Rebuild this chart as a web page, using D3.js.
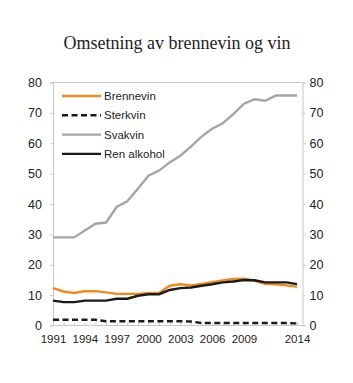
<!DOCTYPE html>
<html>
<head>
<meta charset="utf-8">
<script src="https://cdn.jsdelivr.net/npm/d3@7"></script>
<style>
  body { margin: 0; background: #fff; }
  .axis text { font-family: "Liberation Sans", Arial, sans-serif; fill: #222; }
  .legend text { font-family: "Liberation Sans", Arial, sans-serif; font-size: 11.5px; fill: #222; }
</style>
</head>
<body>
<div class="chart"></div>
<script>
// DATA ------------------------------------

const years = d3.range(1991, 2015);
const yearLabels = [1991, 1994, 1997, 2000, 2003, 2006, 2009, 2014];
const yTicks = [0, 10, 20, 30, 40, 50, 60, 70, 80];

const brennevin = [12.3, 11.2, 10.7, 11.3, 11.3, 10.9, 10.4, 10.4, 10.4, 10.7, 10.7, 13.1,
  13.6, 13.2, 13.7, 14.3, 14.8, 15.3, 15.4, 14.7, 13.7, 13.6, 13.2, 12.7];
const sterkvin = [1.9, 1.9, 1.9, 1.9, 1.9, 1.4, 1.4, 1.4, 1.4, 1.4, 1.4, 1.4,
  1.4, 1.3, 0.8, 0.8, 0.8, 0.8, 0.8, 0.8, 0.8, 0.8, 0.8, 0.7];
const svakvin = [29, 29, 29, 31.3, 33.5, 33.9, 39, 40.9, 45, 49.3, 51, 53.7,
  55.9, 58.9, 62.2, 64.8, 66.6, 69.6, 73, 74.5, 74, 75.7, 75.7, 75.7];
const renAlkohol = [8.2, 7.7, 7.7, 8.2, 8.2, 8.2, 8.8, 8.8, 9.8, 10.3, 10.3, 11.7,
  12.3, 12.5, 13.1, 13.6, 14.2, 14.5, 15, 14.9, 14.2, 14.2, 14.2, 13.6];

const seriesNames = ["Brennevin", "Sterkvin", "Svakvin", "Ren alkohol"];
const seriesValues = [brennevin, sterkvin, svakvin, renAlkohol];
const seriesColors = ["#f08a1c", "#1a1a1a", "#a5a5a5", "#1a1a1a"];
const seriesDash = [null, "6,3.5", null, null];

// CHART INIT ------------------------------

const totalWidth = 353, totalHeight = 383;
const plotLeft = 53, plotRight = 302.5, plotTop = 82.5, plotBottom = 325.5;

const svg = d3.select(".chart").append("svg")
  .attr("width", totalWidth)
  .attr("height", totalHeight);

const xScale = d3.scaleLinear().domain([1991, 2014]).range([plotLeft, 297]);
const yScale = d3.scaleLinear().domain([0, 80]).range([plotBottom, plotTop]);

// title
svg.append("text")
  .attr("x", 177)
  .attr("y", 49)
  .attr("text-anchor", "middle")
  .style("font-family", "'Liberation Serif', 'Times New Roman', serif")
  .style("font-size", "18px")
  .style("fill", "#222")
  .text("Omsetning av brennevin og vin");

// top border
svg.append("line")
  .attr("x1", plotLeft).attr("x2", plotRight)
  .attr("y1", plotTop).attr("y2", plotTop)
  .attr("stroke", "#c8c8c8");

// axes
const yLeft = d3.axisLeft(yScale).tickValues(yTicks).tickSize(3).tickPadding(8);
const yRight = d3.axisRight(yScale).tickValues(yTicks).tickSize(3).tickPadding(4);
const xAxis = d3.axisBottom(xScale).tickValues(years).tickSizeInner(-3).tickSizeOuter(0)
  .tickPadding(9)
  .tickFormat((d) => (yearLabels.includes(d) ? d : ""));

svg.append("g").attr("class", "axis y-left")
  .attr("transform", `translate(${plotLeft},0)`)
  .call(yLeft);
svg.append("g").attr("class", "axis y-right")
  .attr("transform", `translate(${plotRight},0)`)
  .call(yRight);
const gx = svg.append("g").attr("class", "axis x-axis")
  .attr("transform", `translate(0,${plotBottom})`)
  .call(xAxis);

// x domain line spans full box
gx.select(".domain").attr("d", `M${plotLeft},0H${plotRight}`);

svg.selectAll(".axis .domain, .axis .tick line").attr("stroke", "#c8c8c8");
svg.selectAll(".y-left text, .y-right text").style("font-size", "12.5px");
svg.selectAll(".x-axis text").style("font-size", "11.5px");

// lines
const line = d3.line()
  .x((d, i) => xScale(years[i]))
  .y((d) => yScale(d));

seriesValues.forEach((vals, k) => {
  svg.append("path")
    .datum(vals)
    .attr("fill", "none")
    .attr("stroke", seriesColors[k])
    .attr("stroke-width", 2.4)
    .attr("stroke-dasharray", seriesDash[k])
    .attr("d", line);
});

// legend
const legend = svg.append("g").attr("class", "legend");
seriesNames.forEach((name, k) => {
  const y = 96 + k * 19.3;
  legend.append("line")
    .attr("x1", 62).attr("x2", 101)
    .attr("y1", y).attr("y2", y)
    .attr("stroke", seriesColors[k])
    .attr("stroke-width", 2.4)
    .attr("stroke-dasharray", seriesDash[k]);
  legend.append("text")
    .attr("x", 104)
    .attr("y", y + 4)
    .text(name);
});
</script>
</body>
</html>
